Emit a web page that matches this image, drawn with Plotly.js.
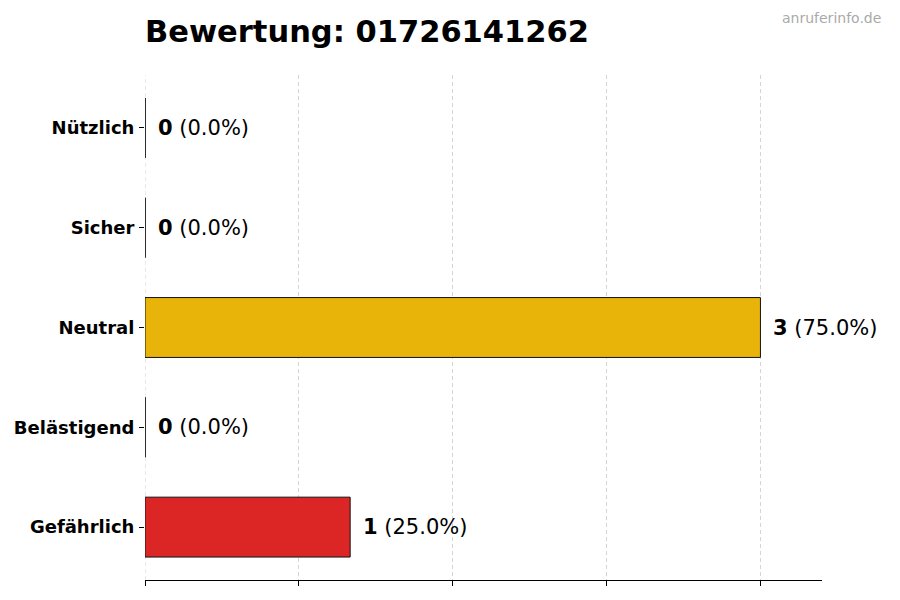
<!DOCTYPE html>
<html>
<head>
<meta charset="utf-8">
<script src="https://cdn.plot.ly/plotly-3.0.1.min.js"></script>
<style>
  html, body { margin: 0; padding: 0; background: #fff; }
  #chart { width: 900px; height: 600px; }
</style>
</head>
<body>
<div id="chart"></div>
<script>
// ratings, top to bottom
const categories = ['Nützlich', 'Sicher', 'Neutral', 'Belästigend', 'Gefährlich']
const counts = [0, 0, 3, 0, 1]
const barColors = ['#2E9E4F', '#2563EB', '#E9B40A', '#F97316', '#DC2626']
const xTicks = [0, 0.75, 1.5, 2.25, 3]
const phone = '01726141262'

const total = counts.reduce((a, b) => a + b, 0)
const font = 'DejaVu Sans, Verdana, sans-serif'

const trace = {
  type: 'bar',
  orientation: 'h',
  x: counts,
  y: categories,
  width: 0.6,
  marker: {
    color: barColors,
    line: { color: '#111', width: 1 }
  },
  hoverinfo: 'none'
}

// value labels next to each bar
const annotations = categories.map((c, i) => ({
  x: counts[i],
  y: c,
  xref: 'x',
  yref: 'y',
  xanchor: 'left',
  yanchor: 'middle',
  xshift: 11,
  showarrow: false,
  text: '<b>' + counts[i] + '</b> (' + (total ? counts[i] / total * 100 : 0).toFixed(1) + '%)',
  font: { family: font, size: 21, color: '#000' }
}))

annotations.push({
  xref: 'paper', yref: 'paper',
  x: 1.09, y: 1.113,
  xanchor: 'right', yanchor: 'middle',
  showarrow: false,
  text: 'anruferinfo.de',
  font: { family: font, size: 14, color: '#aaaaaa' }
})

// plotly drops the gridline at the range edge, so draw the one at 0 by hand
const shapes = [{
  type: 'line', xref: 'x', yref: 'paper',
  x0: xTicks[0], x1: xTicks[0], y0: 0, y1: 1,
  layer: 'below',
  line: { color: '#d4d4d4', width: 1, dash: '4px,3px' }
}]

// zero-count bars still show their edge as a thin line
counts.forEach((v, i) => {
  if (v === 0) {
    shapes.push({
      type: 'line', xref: 'x', yref: 'y',
      x0: 0, x1: 0, y0: i - 0.3, y1: i + 0.3,
      line: { color: '#111', width: 1 }
    })
  }
})

const layout = {
  width: 900,
  height: 600,
  margin: { l: 145, r: 78, t: 75, b: 20 },
  paper_bgcolor: '#fff',
  plot_bgcolor: '#fff',
  showlegend: false,
  title: {
    text: '<b>Bewertung: ' + phone + '</b>',
    font: { family: font, size: 30.5, color: '#000' },
    x: 0, xref: 'paper', xanchor: 'left',
    y: 0.948, yref: 'container', yanchor: 'middle'
  },
  xaxis: {
    range: [0, 3.3],
    tickmode: 'array',
    tickvals: xTicks,
    showticklabels: false,
    ticks: 'outside',
    ticklen: 5,
    tickcolor: '#000',
    showline: true,
    linecolor: '#000',
    linewidth: 1,
    showgrid: true,
    gridcolor: '#d4d4d4',
    griddash: '4px,3px',
    gridwidth: 1,
    zeroline: false,
    fixedrange: true
  },
  yaxis: {
    type: 'category',
    range: [4.53, -0.53],
    ticks: 'outside',
    ticklen: 5,
    tickcolor: '#000',
    showline: false,
    showgrid: false,
    zeroline: false,
    ticklabelstandoff: 1,
    tickfont: { family: font, size: 18, color: '#000', weight: 'bold' },
    fixedrange: true
  },
  annotations: annotations,
  shapes: shapes
}

Plotly.newPlot('chart', [trace], layout, { displayModeBar: false, staticPlot: true })
</script>
</body>
</html>
